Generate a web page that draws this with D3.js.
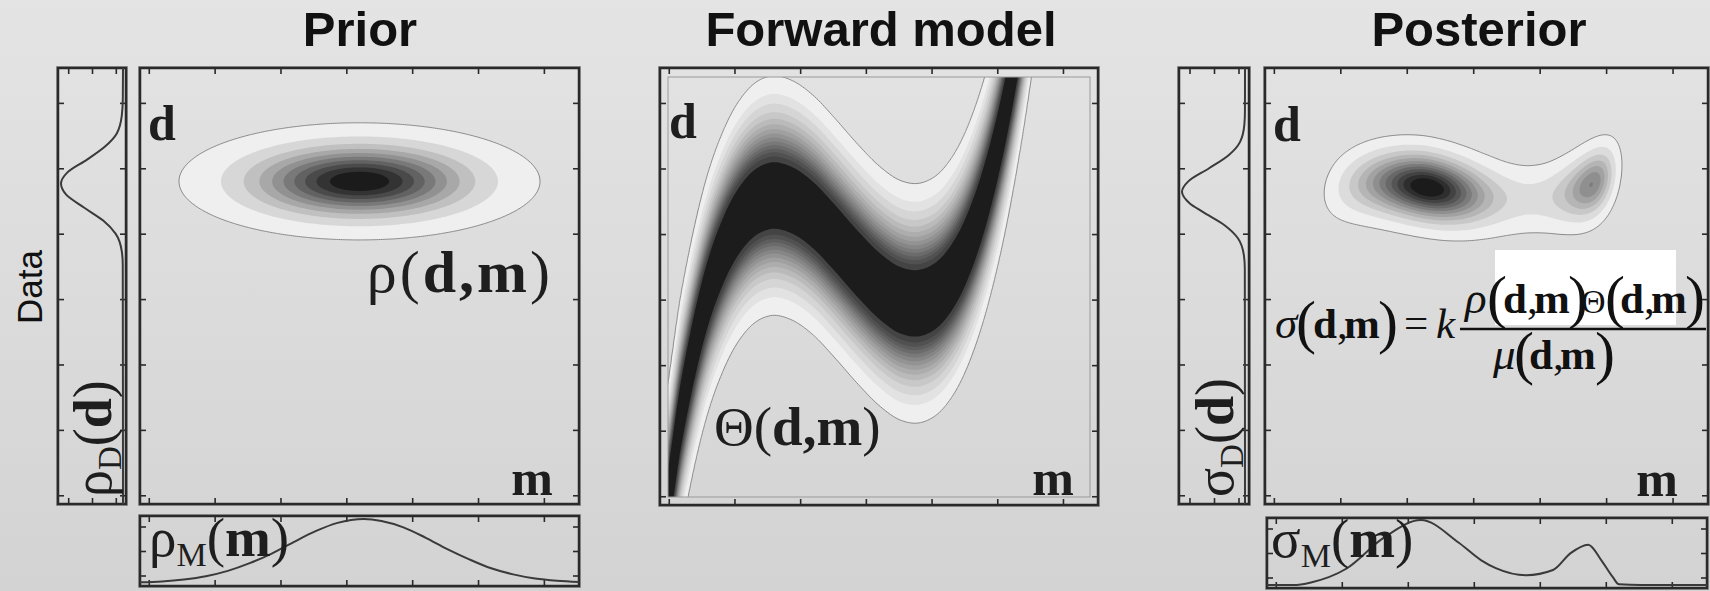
<!DOCTYPE html>
<html>
<head>
<meta charset="utf-8">
<script src="https://cdnjs.cloudflare.com/ajax/libs/d3/7.8.5/d3.min.js"></script>
<style>
body { margin: 0; }
svg { display: block; }
</style>
</head>
<body>
<svg width="1710" height="591"></svg>
<script>
var W = 1710, H = 591;

// ---- values ----
var panelTitles = ["Prior", "Forward model", "Posterior"];
var tickVals = [0.02, 0.17, 0.32, 0.47, 0.62, 0.77, 0.92];
var sideTicks = [0.15, 0.5, 0.85];

// prior ellipse: centre (m, d) and spread (m, d)
var priorCentre = [0.5, 0.74];
var priorSpread = [0.147, 0.048];
var priorLevels = [0.02, 0.1, 0.2, 0.3, 0.4, 0.5, 0.6, 0.7, 0.8, 0.9];

// forward model: centre line of the band, d at equally spaced m
var fwdM = [0, 0.05, 0.1, 0.15, 0.2, 0.25, 0.3, 0.35, 0.4, 0.45, 0.5, 0.55, 0.6, 0.65, 0.7, 0.75, 0.8, 0.85, 0.9, 0.95, 1];
var fwdD = [-0.09, 0.22, 0.452, 0.595, 0.676, 0.707, 0.698, 0.663, 0.61, 0.553, 0.502, 0.468, 0.464, 0.499, 0.586, 0.737, 0.961, 1.27, 1.68, 2.19, 2.83];
var fwdSpread = 0.098;
var fwdLevels = [0.02, 0.06, 0.1, 0.15, 0.2, 0.25, 0.3, 0.35, 0.4, 0.45, 0.5, 0.55, 0.6, 0.66, 0.74];

// posterior: band spread used there and levels as a share of the peak
var postSpread = 0.115;
var postLevels = [0.03, 0.1, 0.18, 0.26, 0.34, 0.42, 0.5, 0.58, 0.66, 0.74, 0.82, 0.9];

// marginals
var rhoD_d = [0, 0.55, 0.58, 0.62, 0.65, 0.68, 0.71, 0.735, 0.76, 0.79, 0.82, 0.85, 0.89, 0.93, 1];
var rhoD_v = [0, 0.004, 0.02, 0.12, 0.32, 0.63, 0.92, 1, 0.9, 0.58, 0.29, 0.1, 0.02, 0.003, 0];
var rhoM_m = [0, 0.05, 0.1, 0.15, 0.2, 0.25, 0.3, 0.35, 0.4, 0.45, 0.51, 0.55, 0.6, 0.65, 0.7, 0.75, 0.8, 0.85, 0.9, 0.95, 1];
var rhoM_v = [0.011, 0.025, 0.055, 0.106, 0.19, 0.31, 0.46, 0.64, 0.81, 0.94, 1, 0.97, 0.87, 0.71, 0.53, 0.37, 0.23, 0.135, 0.07, 0.035, 0.016];
var sigD_d = [0, 0.54, 0.57, 0.61, 0.64, 0.67, 0.69, 0.716, 0.74, 0.77, 0.8, 0.83, 0.87, 0.9, 1];
var sigD_v = [0, 0.003, 0.017, 0.115, 0.33, 0.67, 0.88, 1, 0.9, 0.57, 0.26, 0.08, 0.01, 0.001, 0];
var sigM_m = [0, 0.06, 0.1, 0.18, 0.264, 0.35, 0.436, 0.487, 0.52, 0.589, 0.65, 0.69, 0.73, 0.76, 0.786, 0.8, 0.85, 1];
var sigM_v = [0, 0, 0.04, 0.25, 0.72, 1, 0.65, 0.38, 0.26, 0.15, 0.23, 0.49, 0.62, 0.38, 0.12, 0.01, 0, 0];

// ---- layout ----
var prior = {x: 140, y: 68, w: 439, h: 436};
var fwd = {x: 660, y: 68, w: 438, h: 437};
var post = {x: 1265, y: 68, w: 443, h: 436};
var priorD = {x: 58, y: 68, w: 68, h: 436};
var priorM = {x: 140, y: 516, w: 439, h: 70};
var postD = {x: 1179, y: 68, w: 70, h: 436};
var postM = {x: 1267, y: 518, w: 440, h: 70};

var svg = d3.select("svg");
var defs = svg.append("defs");
var bg = defs.append("linearGradient").attr("id", "bg")
  .attr("x1", 0).attr("y1", 0).attr("x2", 0).attr("y2", 1);
bg.append("stop").attr("offset", "0%").attr("stop-color", "#e4e4e4");
bg.append("stop").attr("offset", "100%").attr("stop-color", "#d3d3d3");
svg.append("rect").attr("width", W).attr("height", H).attr("fill", "url(#bg)");

defs.append("clipPath").attr("id", "fwdclip").append("rect")
  .attr("x", 668).attr("y", 77).attr("width", 422).attr("height", 420);

function gauss(z) { return Math.exp(-0.5 * z * z); }

function priorDensity(m, d) {
  return gauss((m - priorCentre[0]) / priorSpread[0]) * gauss((d - priorCentre[1]) / priorSpread[1]);
}

// catmull-rom through the band centre points
function bandCentre(m) {
  var step = fwdM[1] - fwdM[0], n = fwdD.length;
  var t = (m - fwdM[0]) / step;
  var i = Math.max(0, Math.min(n - 2, Math.floor(t)));
  var f = t - i;
  var p0 = fwdD[Math.max(i - 1, 0)], p1 = fwdD[i], p2 = fwdD[i + 1], p3 = fwdD[Math.min(i + 2, n - 1)];
  return 0.5 * (2 * p1 + (-p0 + p2) * f + (2 * p0 - 5 * p1 + 4 * p2 - p3) * f * f +
    (-p0 + 3 * p1 - 3 * p2 + p3) * f * f * f);
}

function thetaDensity(m, d) {
  return gauss((d - bandCentre(m)) / fwdSpread);
}

function postDensity(m, d) {
  return priorDensity(m, d) * gauss((d - bandCentre(m)) / postSpread);
}

function drawField(box, fn, levels, relative, colour, clip) {
  var nx = 220, ny = 220;
  var values = new Array(nx * ny);
  for (var j = 0; j < ny; j++)
    for (var i = 0; i < nx; i++)
      values[j * nx + i] = fn((i + 0.5) / nx, 1 - (j + 0.5) / ny);
  var th = levels;
  if (relative) {
    var mx = d3.max(values);
    th = levels.map(function(l) { return l * mx; });
  }
  var xs = d3.scaleLinear().domain([0, nx]).range([box.x, box.x + box.w]);
  var ys = d3.scaleLinear().domain([0, ny]).range([box.y, box.y + box.h]);
  var proj = d3.geoTransform({point: function(x, y) { this.stream.point(xs(x), ys(y)); }});
  var path = d3.geoPath(proj);
  var g = svg.append("g");
  if (clip) g.attr("clip-path", "url(#" + clip + ")");
  g.selectAll("path")
    .data(d3.contours().size([nx, ny]).thresholds(th)(values))
    .enter().append("path")
    .attr("d", path)
    .attr("fill", function(d, i) { return colour(i); })
    .attr("stroke", function(d, i) { return i === 0 ? "#8a8a8a" : "none"; })
    .attr("stroke-width", 1);
}

var priorColour = d3.scaleLinear().domain([0, priorLevels.length - 1]).range(["#efefef", "#1b1b1b"]);
var postColour = d3.scaleLinear().domain([0, postLevels.length - 1]).range(["#efefef", "#1b1b1b"]);
var fwdRamp = d3.scaleLinear().domain([0, fwdLevels.length - 2]).range(["#efefef", "#444444"]);
var fwdColour = function(i) { return i === fwdLevels.length - 1 ? "#1c1c1c" : fwdRamp(i); };

drawField(prior, priorDensity, priorLevels, false, priorColour);
drawField(fwd, thetaDensity, fwdLevels, false, fwdColour, "fwdclip");
drawField(post, postDensity, postLevels, true, postColour);

// inner frame of the forward panel
svg.append("rect").attr("x", 668).attr("y", 77).attr("width", 422).attr("height", 420)
  .attr("fill", "none").attr("stroke", "#9a9a9a").attr("stroke-width", 1);

function frame(box, tx, ty) {
  var g = svg.append("g");
  var xs = d3.scaleLinear().domain([0, 1]).range([box.x, box.x + box.w]);
  var ys = d3.scaleLinear().domain([0, 1]).range([box.y + box.h, box.y]);
  g.append("g").attr("transform", "translate(0," + box.y + ")")
    .call(d3.axisTop(xs).tickValues(tx).tickSize(-6).tickFormat(""));
  g.append("g").attr("transform", "translate(0," + (box.y + box.h) + ")")
    .call(d3.axisBottom(xs).tickValues(tx).tickSize(-6).tickFormat(""));
  g.append("g").attr("transform", "translate(" + box.x + ",0)")
    .call(d3.axisLeft(ys).tickValues(ty).tickSize(-6).tickFormat(""));
  g.append("g").attr("transform", "translate(" + (box.x + box.w) + ",0)")
    .call(d3.axisRight(ys).tickValues(ty).tickSize(-6).tickFormat(""));
  g.selectAll(".domain").remove();
  g.selectAll(".tick line").attr("stroke", "#2a2a2a").attr("stroke-width", 1.6);
  g.append("rect").attr("x", box.x - 1.5).attr("y", box.y - 1.5)
    .attr("width", box.w + 3).attr("height", box.h + 3)
    .attr("fill", "none").attr("stroke", "#a0a0a0").attr("stroke-width", 1);
  g.append("rect").attr("x", box.x).attr("y", box.y).attr("width", box.w).attr("height", box.h)
    .attr("fill", "none").attr("stroke", "#2a2a2a").attr("stroke-width", 2.5);
}

frame(prior, tickVals, tickVals);
frame(fwd, tickVals, tickVals);
frame(post, tickVals, tickVals);
frame(priorD, sideTicks, tickVals);
frame(postD, sideTicks, tickVals);
frame(priorM, tickVals, sideTicks);
frame(postM, tickVals, sideTicks);

// marginal curves
function vertMarginal(box, dArr, vArr, baseX, peakX) {
  var ys = d3.scaleLinear().domain([0, 1]).range([box.y + box.h, box.y]);
  var xs = d3.scaleLinear().domain([0, 1]).range([baseX, peakX]);
  var pts = dArr.map(function(d, i) { return [xs(vArr[i]), ys(d)]; }).reverse();
  svg.append("path").attr("d", d3.line().curve(d3.curveMonotoneY)(pts))
    .attr("fill", "none").attr("stroke", "#3a3a3a").attr("stroke-width", 2);
}
function horizMarginal(box, mArr, vArr, baseY, peakY) {
  var xs = d3.scaleLinear().domain([0, 1]).range([box.x, box.x + box.w]);
  var ys = d3.scaleLinear().domain([0, 1]).range([baseY, peakY]);
  var pts = mArr.map(function(m, i) { return [xs(m), ys(vArr[i])]; });
  svg.append("path").attr("d", d3.line().curve(d3.curveMonotoneX)(pts))
    .attr("fill", "none").attr("stroke", "#3a3a3a").attr("stroke-width", 2);
}
vertMarginal(priorD, rhoD_d, rhoD_v, 123, 61);
vertMarginal(postD, sigD_d, sigD_v, 1245, 1182);
horizMarginal(priorM, rhoM_m, rhoM_v, 583, 519);
horizMarginal(postM, sigM_m, sigM_v, 585, 520);

// titles
var titleX = [360, 881, 1479];
svg.selectAll(".title").data(panelTitles).enter().append("text")
  .attr("class", "title")
  .attr("x", function(d, i) { return titleX[i]; })
  .attr("y", 46)
  .attr("text-anchor", "middle")
  .attr("font-family", "Liberation Sans, Arial, sans-serif")
  .attr("font-weight", "bold")
  .attr("font-size", 49)
  .attr("fill", "#111")
  .text(function(d) { return d; });

svg.append("text")
  .attr("transform", "translate(42,287) rotate(-90)")
  .attr("text-anchor", "middle")
  .attr("font-family", "Liberation Sans, Arial, sans-serif")
  .attr("font-size", 35)
  .attr("fill", "#111")
  .text("Data");

// math labels
function mathLabel(x, y, size, parts, opts) {
  opts = opts || {};
  var t = svg.append("text")
    .attr("font-family", "Liberation Serif, Times New Roman, serif")
    .attr("font-size", size)
    .attr("fill", opts.fill || "#1e1e1e");
  if (opts.rotate) t.attr("transform", "translate(" + x + "," + y + ") rotate(-90)");
  else t.attr("x", x).attr("y", y);
  if (opts.anchor) t.attr("text-anchor", opts.anchor);
  if (opts.spacing) t.attr("letter-spacing", opts.spacing);
  parts.forEach(function(p) {
    var s = t.append("tspan").text(p.t);
    if (p.b) s.attr("font-weight", "bold");
    if (p.i) s.attr("font-style", "italic");
    if (p.size) s.attr("font-size", p.size);
    if (p.dy) s.attr("dy", p.dy);
  });
  return t;
}

var dBold = [{t: "d", b: 1}];
var mBold = [{t: "m", b: 1}];
mathLabel(148, 140, 50, dBold);
mathLabel(669, 138, 50, dBold);
mathLabel(1273, 141, 50, dBold);
mathLabel(553, 495, 50, mBold, {anchor: "end"});
mathLabel(1074, 495, 50, mBold, {anchor: "end"});
mathLabel(1678, 496, 50, mBold, {anchor: "end"});

mathLabel(553, 292, 60, [{t: "ρ"}, {t: "("}, {t: "d,m", b: 1}, {t: ")"}], {anchor: "end", spacing: 3});
mathLabel(714, 445, 55, [{t: "Θ"}, {t: "("}, {t: "d,m", b: 1}, {t: ")"}]);

mathLabel(111, 497, 54, [{t: "ρ"}, {t: "D", size: 33, dy: 10}, {t: "(", dy: -10}, {t: "d", b: 1}, {t: ")"}], {rotate: 1});
mathLabel(1233, 497, 54, [{t: "σ"}, {t: "D", size: 33, dy: 10}, {t: "(", dy: -10}, {t: "d", b: 1}, {t: ")"}], {rotate: 1});
mathLabel(149, 556, 55, [{t: "ρ"}, {t: "M", size: 34, dy: 10}, {t: "(", dy: -10}, {t: "m", b: 1}, {t: ")"}]);
mathLabel(1271, 557, 55, [{t: "σ"}, {t: "M", size: 34, dy: 10}, {t: "(", dy: -10}, {t: "m", b: 1}, {t: ")"}]);

// posterior formula
svg.append("rect").attr("x", 1495).attr("y", 250).attr("width", 181).attr("height", 75).attr("fill", "#ffffff");
svg.append("line").attr("x1", 1460).attr("x2", 1706).attr("y1", 329).attr("y2", 329)
  .attr("stroke", "#111").attr("stroke-width", 2.5);

var formula = [
  ["σ", 1275, 338, 45, "i"], ["(", 1296, 342, 60, ""], ["d", 1313, 338, 43, "b"], [",", 1337, 338, 43, ""],
  ["m", 1344, 338, 43, "b"], [")", 1378, 342, 60, ""], ["=", 1404, 337, 43, ""], ["k", 1436, 338, 43, "i"],
  ["ρ", 1465, 313, 45, "i"], ["(", 1487, 317, 60, ""], ["d", 1503, 313, 43, "b"], [",", 1527, 313, 43, ""],
  ["m", 1534, 313, 43, "b"], [")", 1568, 317, 60, ""], ["Θ", 1581, 313, 34, ""], ["(", 1605, 317, 60, ""],
  ["d", 1620, 313, 43, "b"], [",", 1644, 313, 43, ""], ["m", 1651, 313, 43, "b"], [")", 1685, 317, 60, ""],
  ["μ", 1493, 369, 45, "i"], ["(", 1514, 373, 60, ""], ["d", 1529, 369, 43, "b"], [",", 1553, 369, 43, ""],
  ["m", 1560, 369, 43, "b"], [")", 1595, 373, 60, ""]
];
svg.selectAll(".eq").data(formula).enter().append("text")
  .attr("class", "eq")
  .attr("x", function(d) { return d[1]; })
  .attr("y", function(d) { return d[2]; })
  .attr("font-size", function(d) { return d[3]; })
  .attr("font-style", function(d) { return d[4] === "i" ? "italic" : "normal"; })
  .attr("font-weight", function(d) { return d[4] === "b" ? "bold" : "normal"; })
  .attr("font-family", "Liberation Serif, Times New Roman, serif")
  .attr("fill", "#111")
  .text(function(d) { return d[0]; });
</script>
</body>
</html>
